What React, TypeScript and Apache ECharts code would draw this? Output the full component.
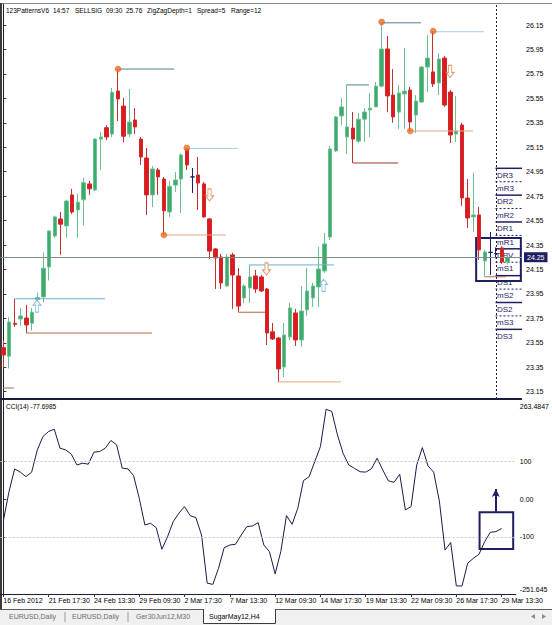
import { useEffect, useRef } from 'react';
import * as echarts from 'echarts';

// ---------------- data ----------------
const opens = [23.51,23.44,23.71,23.745,23.753,23.71,23.905,23.925,24.17,24.424,
24.563,24.506,24.76,24.637,24.72,24.85,24.80,25.217,25.31,25.258,
25.61,25.487,25.258,25.373,25.217,25.062,24.76,24.964,24.89,24.62,
24.84,24.89,25.136,24.907,24.923,24.85,24.563,24.318,24.252,24.015,
24.269,24.097,23.917,23.999,24.097,24.089,23.99,23.64,23.589,23.352,
23.598,23.794,23.573,23.819,23.917,24.007,24.138,24.416,25.12,25.406,
25.234,25.307,25.20,25.38,25.455,25.48,25.65,25.954,25.577,25.438,
25.586,25.618,25.414,25.52,25.806,25.766,25.676,25.88,25.602,25.258,
25.332,24.735,24.58,24.596,24.22,24.29,24.28,24.326,24.211];

const closes = [23.45,23.72,23.70,23.77,23.696,23.80,23.92,24.16,24.465,24.58,
24.52,24.71,24.62,24.70,24.86,24.81,25.217,25.234,25.234,25.60,
25.545,25.24,25.356,25.316,25.07,24.76,24.972,24.907,24.63,24.83,
24.882,25.087,25.005,24.907,24.857,24.58,24.30,24.244,24.04,24.252,
24.105,23.85,24.015,24.089,23.99,23.974,23.63,23.581,23.336,23.614,
23.835,23.573,23.81,23.974,24.015,24.154,24.359,25.136,25.398,25.48,
25.316,25.217,25.38,25.438,25.47,25.65,25.954,25.57,25.398,25.594,
25.61,25.357,25.528,25.806,25.88,25.668,25.872,25.495,25.25,25.283,
24.735,24.571,24.596,24.31,24.293,24.29,24.28,24.211,24.25];

const lows = [23.34,23.34,23.68,23.69,23.63,23.65,23.88,23.88,24.06,24.41,
24.27,24.41,24.604,24.41,24.51,24.76,24.79,24.964,25.21,25.234,
25.365,25.19,25.234,25.258,25.005,24.596,24.66,24.76,24.432,24.58,
24.784,24.612,24.964,24.776,24.637,24.57,24.236,23.99,23.99,24.007,
23.827,23.80,23.876,23.876,23.958,23.966,23.532,23.573,23.23,23.27,
23.573,23.524,23.516,23.77,23.843,23.843,24.121,24.39,25.111,25.332,
25.095,25.021,25.185,25.193,25.234,25.48,25.64,25.438,25.35,25.30,
25.30,25.283,25.267,25.512,25.602,25.643,25.577,25.48,25.185,25.193,
24.67,24.49,24.457,24.228,24.09,24.105,24.24,24.195,24.19];

const highs = [23.57,23.76,23.91,23.835,23.86,23.835,23.96,24.29,24.47,24.59,
24.62,24.72,24.81,24.77,24.90,24.874,25.225,25.275,25.33,25.635,
25.79,25.553,25.627,25.47,25.234,25.144,24.997,24.98,24.907,24.874,
24.947,25.10,25.144,24.98,25.07,24.866,24.57,24.326,24.277,24.277,
24.285,24.162,24.03,24.187,24.146,24.105,23.999,23.712,23.598,23.712,
23.876,23.827,24.015,24.162,24.04,24.334,24.449,25.16,25.406,25.553,
25.66,25.438,25.43,25.47,25.594,25.684,26.175,26.06,25.79,25.66,
25.962,25.643,25.577,25.815,26.07,26.10,25.92,25.896,25.618,25.57,
25.35,24.89,24.94,24.66,24.31,24.457,24.33,24.34,24.27];

const cci = [-57.7,20,80.6,71.8,60,71.8,131,166.5,180,186,
135.6,131,119.7,91,95.7,93,125,126.6,135.6,156,
144.4,82.4,80.6,62.8,2.6,-68.4,-63.9,-75.5,-133,-99.5,
-59.6,-37,-19.7,-43.6,-48.9,-95,-223,-226,-183.5,-128.7,
-121.5,-119.7,-95,-72.9,-71,-62.2,-121.5,-139.4,-198,-139,
-43.6,-66.5,-24,49.5,60,100,140,239,233,171,
122,91,82,73,72,80.6,109,78,48.7,45,
66.5,-28.5,-19.7,91,137,88.6,71.8,-4.5,-135,-115,
-230,-230.6,-170,-157,-146,-112.8,-87.8,-86,-77.6985];

const timeTickLabels = ['16 Feb 2012','21 Feb 17:30','24 Feb 13:30','29 Feb 09:30','2 Mar 17:30','7 Mar 13:30',
  '12 Mar 09:30','14 Mar 17:30','19 Mar 13:30','22 Mar 09:30','26 Mar 17:30','29 Mar 13:30'];
const BARS_PER_TICK = 8;
const EMPTY_SLOTS = 2;

const priceTicks = [26.15,25.95,25.75,25.55,25.35,25.15,24.95,24.75,24.55,24.35,24.15,23.95,23.75,23.55,23.35,23.15];
const priceMin = 23.09;
const priceMax = 26.322;
const lastPrice = 24.25;

const cciMin = -251.645;
const cciMax = 263.4847;
const cciLevels = [100, -100];
// label text and the value where MT4 prints it (extremes are printed inside the pane)
const cciAxisLabels = ['263.4847', '100', '0.00', '-100', '-251.645'];
const cciAxisLabelAt = [246.4, 100, 0, -100, -240.8];

// zigzag swing points [bar, price]
const zigzagPoints = [[20, 25.79], [28, 24.432], [32, 25.144], [66, 26.175], [71, 25.283], [75, 26.10]];

// horizontal pattern levels [fromBar, toBar, price, kind]
const levelSegments: [number, number, number, string][] = [
  [20, 29.78, 25.79, 'hiDark'],
  [32, 40.95, 25.14, 'hiLight'],
  [66, 72.9, 26.168, 'hiDark'],
  [75, 83.9, 26.095, 'hiLight'],
  [1.91, 17.74, 23.91, 'hiBlue'],
  [42.87, 57.7, 24.187, 'hiBlue'],
  [59.9, 63.8, 25.66, 'hiDark'],
  [28, 38.85, 24.432, 'loLight'],
  [3.95, 25.94, 23.63, 'loDark'],
  [41, 45.66, 23.80, 'loDark'],
  [48, 58.9, 23.23, 'loLight'],
  [61, 68.9, 25.021, 'loDeep'],
  [71, 81.96, 25.283, 'loLight'],
  [84, 87.7, 24.09, 'loDark'],
  [-0.06, 1.86, 23.18, 'loDark'],
];

// signal arrows [bar, price, direction]
const signalArrows: [number, number, string][] = [
  [5.87, 23.85, 'up'],
  [55.87, 24.02, 'up'],
  [35.97, 24.76, 'down'],
  [45.92, 24.154, 'down'],
  [77.95, 25.77, 'down'],
];

const dayStartBar = 85.92;
const priceBox = { fromBar: 82.5, toBar: 90.3, top: 24.408, bottom: 24.056 };
const cciBox = { fromBar: 84.1, toBar: 90.04, top: -34.6, bottom: -132.2 };
const cciArrow = { bar: 86.97, from: -34.6, to: 27 };

const pivotNames = ['DR3','mR3','DR2','mR2','DR1','mR1','DPV','mS1','DS1','mS2','DS2','mS3','DS3'];
const headerTokens = ['123PatternsV6','14:57','SELLSIG','09:30','25.76','ZigZagDepth=1','Spread=5','Range=12'];
const tabLabels = ['EURUSD,Daily','EURUSD,Daily','Ger30Jun12,M30','SugarMay12,H4'];

// ---------------- styles / layout ----------------
const FONT = '"Liberation Sans", Arial, sans-serif';
const NAVY = '#1e1e62';
const levelColors: Record<string, string> = {
  hiDark: '#4a8291', hiLight: '#a8cde0', hiBlue: '#6aaed6',
  loDark: '#b46a42', loLight: '#e3a880', loDeep: '#8f4022',
};
const UP_ARROW = 'path://M4,0 L8,5 L5.6,5 L5.6,12 L2.4,12 L2.4,5 L0,5 Z';
const DOWN_ARROW = 'path://M2.4,0 L5.6,0 L5.6,7 L8,7 L4,12 L0,7 L2.4,7 Z';

export default function App() {
  const ref = useRef<HTMLDivElement>(null);
  useEffect(() => {
    const chart = echarts.init(ref.current!, null, { renderer: 'svg' });
    const nSlots = opens.length + EMPTY_SLOTS;
    const categories = Array.from({ length: nSlots }, (_, i) =>
      i % BARS_PER_TICK === 0 && i / BARS_PER_TICK < timeTickLabels.length ? timeTickLabels[i / BARS_PER_TICK] : '');
    const candles = opens.map((o, i) => [o, closes[i], lows[i], highs[i]]);
    const isTick = (i: number) => i % BARS_PER_TICK === 0 && i < opens.length;

    const headerX = [6, 53, 75, 106, 126, 147, 197, 231];
    const graphic: any[] = [];
    // frame
    graphic.push({ type: 'line', shape: { x1: 0, y1: 3.5, x2: 552, y2: 3.5 }, style: { stroke: '#8a8a8a', lineWidth: 1 } });
    graphic.push({ type: 'line', shape: { x1: 1, y1: 3, x2: 1, y2: 610 }, style: { stroke: '#3a3a3a', lineWidth: 2 } });
    graphic.push({ type: 'rect', shape: { x: 0, y: 398, width: 522, height: 2 }, style: { fill: '#1c1c3c' } });
    // header
    headerTokens.forEach((t, i) => graphic.push({ type: 'text', x: headerX[i], y: 10.5,
      style: { text: t, fill: '#000', font: `6.5px ${FONT}`, textVerticalAlign: 'middle' } }));
    graphic.push({ type: 'text', x: 6, y: 406.5,
      style: { text: `CCI(14) ${cci[cci.length - 1]}`, fill: '#000', font: `6.5px ${FONT}`, textVerticalAlign: 'middle' } });
    // pivot labels
    pivotNames.forEach((n, i) => {
      const y = 175 + i * 13.42;
      const solid = n[0] === 'D';
      graphic.push({ type: 'line', shape: { x1: 495.5, y1: y - 6.7, x2: 522, y2: y - 6.7 },
        style: { stroke: NAVY, lineWidth: solid ? 1.5 : 1, lineDash: solid ? null : [2, 2] } });
      graphic.push({ type: 'text', x: 497, y: y,
        style: { text: n, fill: NAVY, font: `8px ${FONT}`, textVerticalAlign: 'middle' } });
    });
    // tab bar
    graphic.push({ type: 'rect', shape: { x: 0, y: 609, width: 552, height: 16 }, style: { fill: '#f0f0f0' } });
    graphic.push({ type: 'line', shape: { x1: 0, y1: 609.5, x2: 552, y2: 609.5 }, style: { stroke: '#5a5a5a', lineWidth: 1 } });
    graphic.push({ type: 'rect', shape: { x: 203, y: 609, width: 72, height: 15 }, style: { fill: '#fff' } });
    graphic.push({ type: 'polyline', shape: { points: [[203.5, 609], [203.5, 623.5], [275.5, 623.5], [275.5, 609]] },
      style: { stroke: '#3a3a3a', lineWidth: 1, fill: null } });
    const tabX = [9, 72, 136, 209];
    tabLabels.forEach((t, i) => graphic.push({ type: 'text', x: tabX[i], y: 616.5,
      style: { text: t, fill: i === 3 ? '#000' : '#6a6a6a', font: `7px ${FONT}`, textVerticalAlign: 'middle' } }));
    [65, 128].forEach(x => graphic.push({ type: 'line', shape: { x1: x, y1: 612, x2: x, y2: 622 }, style: { stroke: '#9a9a9a', lineWidth: 1 } }));
    graphic.push({ type: 'polygon', shape: { points: [[531, 616.5], [535, 614], [535, 619]] }, style: { fill: '#8a8a8a' } });
    graphic.push({ type: 'polygon', shape: { points: [[546, 616.5], [542, 614], [542, 619]] }, style: { fill: '#8a8a8a' } });

    const axisText = { fontSize: 7, fontFamily: FONT, color: '#000' };

    const levelSeries = levelSegments.map(([a, b, p, k]) => ({
      type: 'line', xAxisIndex: 1, yAxisIndex: 0, data: [[a, p], [b, p]], symbol: 'none', showSymbol: false,
      lineStyle: { color: levelColors[k], width: 1 }, itemStyle: { color: levelColors[k] }, silent: true, z: 3,
    }));

    const option: any = {
      animation: false,
      backgroundColor: '#fff',
      grid: [
        { left: 0.5, top: 4, width: 521.5, height: 395 },
        { left: 0.5, top: 400, width: 521.5, height: 194 },
      ],
      xAxis: [
        { type: 'category', gridIndex: 0, data: categories, boundaryGap: true, show: false },
        { type: 'value', gridIndex: 0, min: -0.5, max: nSlots - 0.5, show: false },
        { type: 'category', gridIndex: 1, data: categories, boundaryGap: true, position: 'bottom',
          axisLine: { show: true, onZero: false, lineStyle: { color: '#1c1c3c', width: 1 } },
          axisTick: { show: true, interval: (i: number) => isTick(i), alignWithLabel: true, length: 3, lineStyle: { color: '#333' } },
          axisLabel: { show: true, interval: (i: number) => isTick(i), align: 'left', margin: 3, ...axisText },
          splitLine: { show: false } },
        { type: 'value', gridIndex: 1, min: -0.5, max: nSlots - 0.5, show: false },
      ],
      yAxis: [
        { type: 'value', gridIndex: 0, position: 'right', min: priceMin, max: priceMax, scale: true,
          axisLine: { show: true, lineStyle: { color: '#1c1c3c', width: 1 } },
          axisTick: { show: true, customValues: priceTicks, length: 3, lineStyle: { color: '#333' } },
          axisLabel: { show: true, customValues: priceTicks, formatter: (v: number) => v.toFixed(2), margin: 4, ...axisText },
          splitLine: { show: false } },
        { type: 'value', gridIndex: 1, position: 'right', min: cciMin, max: cciMax,
          axisLine: { show: true, lineStyle: { color: '#1c1c3c', width: 1 } },
          axisTick: { show: true, customValues: [100, 0, -100], length: 3, lineStyle: { color: '#333' } },
          axisLabel: { show: true, customValues: cciAxisLabelAt, margin: 4, ...axisText,
            formatter: (v: number) => {
              let k = 0;
              cciAxisLabelAt.forEach((p, i) => { if (Math.abs(p - v) < Math.abs(cciAxisLabelAt[k] - v)) k = i; });
              return cciAxisLabels[k];
            } },
          splitLine: { show: false } },
      ],
      graphic,
      series: [
        { type: 'candlestick', xAxisIndex: 0, yAxisIndex: 0, data: candles, barWidth: 4,
          itemStyle: { color: '#3daa6e', color0: '#e3171d', borderColor: '#6cc08f', borderColor0: '#c92e2e',
            borderColorDoji: NAVY, borderWidth: 1 },
          markLine: { silent: true, symbol: ['none', 'none'], animation: false,
            data: [{ yAxis: lastPrice }],
            lineStyle: { color: '#7d8a8a', width: 1, type: 'solid' },
            label: { show: true, position: 'end', distance: 2, formatter: lastPrice.toFixed(2), color: '#fff',
              backgroundColor: NAVY, fontSize: 7, fontFamily: FONT, padding: [2, 3, 1, 3] } } },
        ...levelSeries,
        { type: 'scatter', xAxisIndex: 1, yAxisIndex: 0, symbolSize: 6, z: 4,
          data: zigzagPoints,
          itemStyle: { color: '#f26a21', borderColor: '#d9541a', borderWidth: 0.5 },
          markLine: { silent: true, symbol: ['none', 'none'], animation: false,
            data: [{ xAxis: dayStartBar }],
            lineStyle: { color: NAVY, width: 1, type: [2, 2] }, label: { show: false } },
          markArea: { silent: true, animation: false,
            data: [[{ coord: [priceBox.fromBar, priceBox.top] }, { coord: [priceBox.toBar, priceBox.bottom] }]],
            itemStyle: { color: 'rgba(0,0,0,0)', borderColor: NAVY, borderWidth: 2 } } },
        { type: 'scatter', xAxisIndex: 1, yAxisIndex: 0, z: 4,
          data: signalArrows.map(([b, p, d]) => ({ value: [b, p], symbol: d === 'up' ? UP_ARROW : DOWN_ARROW,
            symbolSize: [8, 12], itemStyle: { color: '#fff', borderColor: d === 'up' ? '#6aaed6' : '#e07a3c', borderWidth: 1 } })) },
        { type: 'line', xAxisIndex: 2, yAxisIndex: 1, data: cci, showSymbol: false, symbol: 'none',
          lineStyle: { color: '#1b1b4b', width: 1 },
          markLine: { silent: true, symbol: ['none', 'none'], animation: false,
            data: cciLevels.map(v => ({ yAxis: v })),
            lineStyle: { color: '#c4c4c4', width: 1, type: [2, 2] }, label: { show: false } } },
        { type: 'scatter', xAxisIndex: 3, yAxisIndex: 1, symbolSize: 0,
          data: [[cciArrow.bar, cciArrow.from]],
          markArea: { silent: true, animation: false,
            data: [[{ coord: [cciBox.fromBar, cciBox.top] }, { coord: [cciBox.toBar, cciBox.bottom] }]],
            itemStyle: { color: 'rgba(0,0,0,0)', borderColor: NAVY, borderWidth: 2 } },
          markLine: { silent: true, animation: false, symbol: ['none', 'arrow'], symbolSize: [6, 8],
            data: [[{ coord: [cciArrow.bar, cciArrow.from] }, { coord: [cciArrow.bar, cciArrow.to] }]],
            lineStyle: { color: NAVY, width: 2, type: 'solid' }, label: { show: false } } },
      ],
    };
    chart.setOption(option);
    return () => chart.dispose();
  }, []);
  return <div ref={ref} style={{ position: 'absolute', left: 0, top: 0, width: 552, height: 625 }} />;
}
